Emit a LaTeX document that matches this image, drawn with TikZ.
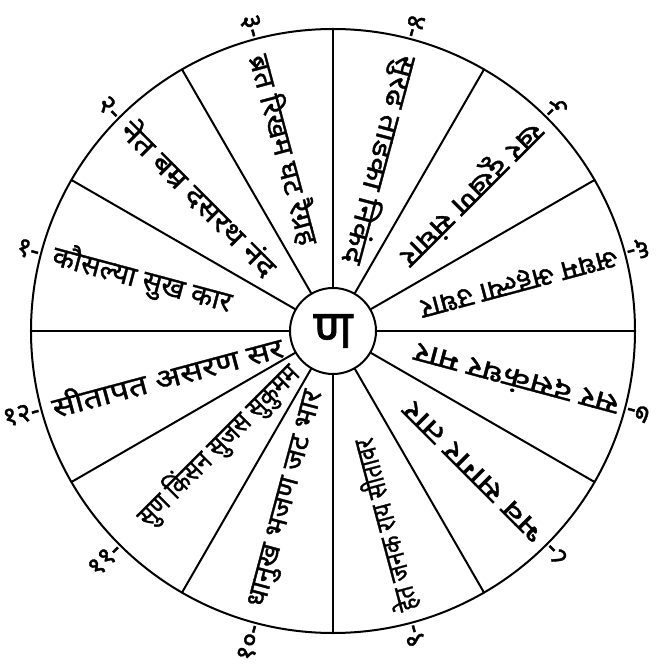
\documentclass[tikz,border=0pt]{standalone}
\usepackage{fontspec}
\usepackage{graphicx}
\newfontfamily\deva[Script=Devanagari, FakeBold=1.2]{Noto Sans}
\newfontfamily\devanum[Script=Devanagari, FakeBold=1.5]{Noto Sans}
\tikzset{
  wheel/.style={line width=2pt, line join=round, line cap=round},
  spk/.style={font=\deva\fontsize{28}{28}\selectfont, inner sep=0pt, anchor=west},
  num/.style={font=\devanum\fontsize{27}{27}\selectfont, inner sep=0pt, anchor=east},
  hub/.style={circle, draw, line width=2pt, minimum size=86pt, inner sep=0pt,
              font=\deva\bfseries\fontsize{54}{54}\selectfont}
}
\newcommand\sx[2]{\scalebox{#1}[1]{#2}}
\begin{document}
\begin{tikzpicture}[x=1pt,y=1pt]
\useasboundingbox (-333,-340) rectangle (327,331);
\node[hub] (c) at (0,0) {ण};
\draw[wheel] (0,0) circle (302);
\foreach \a in {0,30,...,330}{
  \draw[wheel] (c.\a) -- (\a:302);
}
% sector texts
\node[spk, rotate=345] (t1)  at (165:290) {\sx{1.02}{कौसल्या सुख कार}};
\node[spk, rotate=315] (t2)  at (135:292) {\sx{1.15}{नेत बम्र दसरथ नंद}};
\node[spk, rotate=285] (t3)  at (105:286) {\sx{1.06}{ब्रत रिखम घट रैग्रह}};
\node[spk, rotate=255] (t4)  at (75:285)  {\sx{1.15}{सुरढ ताडका निकंद}};
\node[spk, rotate=225] (t5)  at (45:290)  {\sx{1.18}{खर दूखण संघार}};
\node[spk, rotate=195] (t6)  at (15:294)  {\sx{1.05}{अधम अहल्या उधार}};
\node[spk, rotate=165] (t7)  at (-15:295) {\sx{1.28}{सर दसकंधर मार}};
\node[spk, rotate=135] (t8)  at (-45:293) {\sx{1.36}{भव सागर तार}};
\node[spk, rotate=105] (t9)  at (-75:290) {\sx{0.8}{हेत जनक राय सीतावर}};
\node[spk, rotate=75]  (t10) at (-105:286) {\sx{1.02}{धानुख भजण जट भार}};
\node[spk, rotate=45]  (t11) at (-135:270) {\sx{0.84}{सुण किंसन सुजस सुकुमम}};
\node[spk, rotate=15]  (t12) at (-165:291) {\sx{1.2}{सीतापत असरण सर}};
% numbers
\node[num, rotate=345] (n1)  at (165:304) {१-};
\node[num, rotate=315] (n2)  at (135:304) {२-};
\node[num, rotate=285] (n3)  at (105:304) {३-};
\node[num, rotate=255] (n4)  at (75:304)  {४-};
\node[num, rotate=225] (n5)  at (45:304)  {५-};
\node[num, rotate=195] (n6)  at (15:304)  {६-};
\node[num, rotate=165] (n7)  at (-15:304) {७-};
\node[num, rotate=135] (n8)  at (-45:304) {८-};
\node[num, rotate=105] (n9)  at (-75:304) {९-};
\node[num, rotate=75]  (n10) at (-105:304) {१०-};
\node[num, rotate=45]  (n11) at (-135:304) {११-};
\node[num, rotate=15]  (n12) at (-165:304) {१२-};
\end{tikzpicture}
\end{document}
